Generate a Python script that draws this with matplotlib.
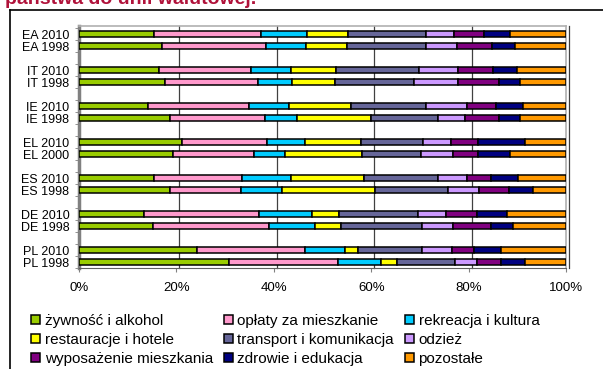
import numpy as np
import matplotlib
matplotlib.use('Agg')
from matplotlib import pyplot as plt
from matplotlib.lines import Line2D
from matplotlib.transforms import ScaledTranslation

plt.rcParams['font.family'] = ['Liberation Sans', 'DejaVu Sans']

kraje = ['EA 2010', 'EA 1998', 'IT 2010', 'IT 1998', 'IE 2010', 'IE 1998',
         'EL 2010', 'EL 2000', 'ES 2010', 'ES 1998', 'DE 2010', 'DE 1998',
         'PL 2010', 'PL 1998']

zywnosc = [15.5, 17.1, 16.4, 17.7, 14.2, 18.7, 21.2, 19.4, 15.5, 18.6, 13.3, 15.2, 24.3, 30.9]
oplaty = [21.8, 21.2, 18.9, 19.0, 20.8, 19.4, 17.4, 16.5, 18.0, 14.6, 23.6, 23.8, 22.1, 22.2]
rekreacja = [9.5, 8.3, 8.3, 7.1, 8.2, 6.6, 7.9, 6.3, 10.0, 8.4, 11.0, 9.5, 8.3, 9.0]
restauracje = [8.5, 8.5, 9.2, 8.7, 12.7, 15.2, 11.5, 16.0, 15.0, 19.1, 5.5, 5.4, 2.6, 3.1]
transport = [15.9, 16.1, 17.1, 16.2, 15.3, 13.8, 12.7, 12.0, 15.2, 15.1, 16.2, 16.6, 13.1, 12.0]
odziez = [5.8, 6.5, 8.0, 9.2, 8.4, 5.5, 5.7, 6.6, 5.9, 6.3, 5.7, 6.2, 6.1, 4.6]
wyposazenie = [6.1, 7.2, 7.2, 8.3, 6.1, 7.1, 5.6, 5.2, 5.1, 6.1, 6.5, 8.0, 4.6, 4.8]
zdrowie = [5.4, 4.6, 4.8, 4.4, 5.5, 4.2, 9.6, 6.6, 5.5, 5.0, 6.1, 4.4, 5.5, 5.0]
pozostale = [11.5, 10.5, 10.1, 9.4, 8.8, 9.5, 8.4, 11.4, 9.8, 6.8, 12.1, 10.9, 13.4, 8.4]

nazwy = ['żywność i alkohol', 'opłaty za mieszkanie', 'rekreacja i kultura',
         'restauracje i hotele', 'transport i komunikacja', 'odzież',
         'wyposażenie mieszkania', 'zdrowie i edukacja', 'pozostałe']
kolory = ['#99CC00', '#FF99CC', '#00CCFF', '#FFFF00', '#666699',
          '#CC99FF', '#800080', '#000080', '#FF9900']


def main():
    serie = [zywnosc, oplaty, rekreacja, restauracje, transport,
             odziez, wyposazenie, zdrowie, pozostale]

    # pary lat dla kazdego kraju, z przerwa miedzy krajami
    y = np.array([3 * (i // 2) + i % 2 for i in range(len(kraje))])

    fig = plt.figure(figsize=(6.03, 3.69), dpi=100)
    ax = fig.add_axes([79 / 603, 1 - 268 / 369, 487 / 603, 242 / 369])

    left = np.zeros(len(kraje))
    handles = []
    for vals, nazwa, kolor in zip(serie, nazwy, kolory):
        b = ax.barh(y, vals, left=left, height=0.5, color=kolor,
                    edgecolor='black', linewidth=1.1, label=nazwa, zorder=3)
        handles.append(b)
        left += np.array(vals)

    ax.set_xlim(0, 100)
    ax.set_ylim(19.5, -0.67)

    # linie siatki na tylnej scianie (lekko przesuniete)
    off = ScaledTranslation(3 / 100, 0, fig.dpi_scale_trans)
    for x in [20, 40, 60, 80, 100]:
        ax.plot([x, x], [0, 1], color='#404040', lw=0.9,
                transform=ax.get_xaxis_transform() + off, zorder=1,
                clip_on=False)

    ax.set_xticks([0, 20, 40, 60, 80, 100])
    ax.set_xticklabels(['0%', '20%', '40%', '60%', '80%', '100%'], fontsize=9.5)
    ax.set_yticks(y)
    ax.set_yticklabels(kraje, fontsize=9)
    ax.tick_params(axis='y', which='major', length=0, pad=7)
    ax.set_yticks(np.arange(-0.5, 20, 1), minor=True)
    ax.tick_params(axis='y', which='minor', length=3, color='#808080')
    ax.tick_params(axis='x', length=3, color='#808080', pad=7)

    for s in ['top', 'right']:
        ax.spines[s].set_color('#b0b0b0')
        ax.spines[s].set_linewidth(1.2)
    ax.spines['bottom'].set_color('#606060')
    ax.spines['left'].set_color('#808080')
    ax.spines['left'].set_linewidth(2.5)
    ax.spines['left'].set_zorder(2)

    # legenda w trzech kolumnach, wypelniana wierszami
    order = [0, 3, 6, 1, 4, 7, 2, 5, 8]
    fig.legend([handles[i] for i in order], [nazwy[i] for i in order],
               ncol=3, loc='upper left', bbox_to_anchor=(31 / 603, 1 - 314 / 369),
               frameon=False, fontsize=11, handlelength=0.6, handleheight=0.6,
               handletextpad=0.3, columnspacing=0.7, labelspacing=0.32,
               borderpad=0, borderaxespad=0)

    # ramka wykresu
    fig.add_artist(Line2D([10 / 603, 1], [1 - 10 / 369, 1 - 10 / 369],
                          color='black', lw=1.2))
    fig.add_artist(Line2D([10 / 603, 10 / 603], [0, 1 - 10 / 369],
                          color='black', lw=1.2))

    fig.text(5 / 603, 1 - 4 / 369, 'państwa do unii walutowej.', color='#B0123A',
             fontsize=14, fontweight='bold', va='baseline', ha='left')

    plt.savefig('out.png', dpi=100)


if __name__ == '__main__':
    main()
